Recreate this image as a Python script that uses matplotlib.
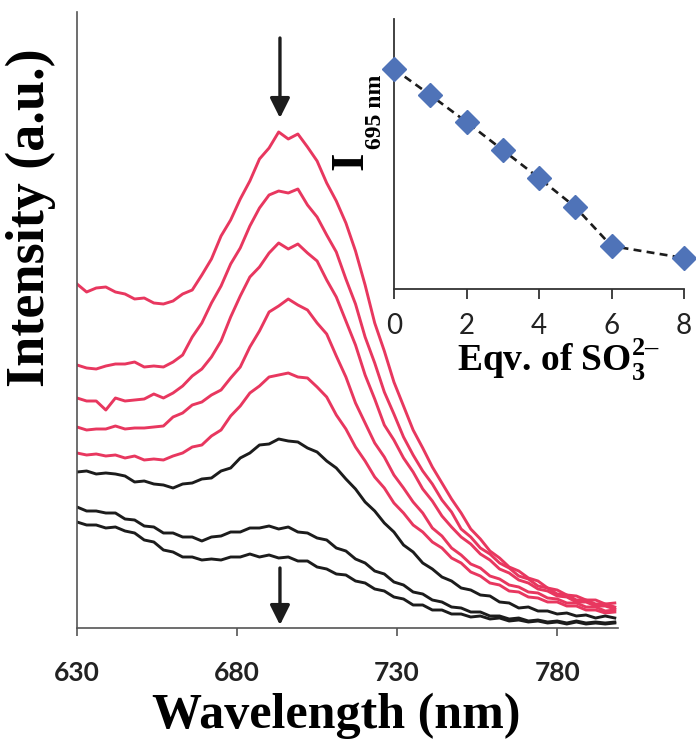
import numpy as np
import matplotlib
matplotlib.use("Agg")
import matplotlib.pyplot as plt

plt.rcParams["mathtext.fontset"] = "custom"
plt.rcParams["mathtext.rm"] = "Liberation Serif"
plt.rcParams["mathtext.bf"] = "Liberation Serif:bold"

# emission spectra (a.u.), every 3 nm from 630 to 798 nm
wl = np.arange(630, 799, 3)

red1 = [344, 336, 340, 341, 336, 334, 329, 330, 325, 324,
        327, 334, 338, 353, 369, 392, 408, 429, 447, 469,
        480, 496, 489, 494, 481, 467, 445, 427, 405, 377,
        343, 305, 277, 246, 222, 198, 180, 161, 145, 129,
        115, 99, 89, 77, 70, 61, 57, 50, 47, 40,
        38, 33, 32, 28, 28, 24, 25]
red2 = [263, 260, 259, 262, 264, 264, 266, 261, 262, 261,
        266, 273, 291, 305, 325, 342, 364, 380, 402, 420,
        433, 437, 435, 439, 423, 411, 393, 376, 349, 324,
        291, 265, 236, 214, 191, 173, 157, 144, 128, 116,
        99, 91, 80, 74, 65, 60, 52, 49, 42, 40,
        34, 33, 28, 28, 24, 24, 21]
red3 = [230, 227, 227, 218, 230, 227, 228, 229, 234, 230,
        235, 242, 252, 259, 271, 287, 311, 332, 351, 361,
        375, 385, 379, 384, 375, 367, 348, 331, 307, 283,
        253, 229, 203, 188, 170, 156, 139, 127, 112, 101,
        91, 84, 74, 68, 59, 55, 48, 45, 39, 37,
        32, 31, 26, 26, 22, 22, 19]
red4 = [201, 198, 199, 199, 202, 199, 200, 200, 201, 202,
        211, 215, 223, 226, 233, 238, 250, 261, 281, 297,
        316, 322, 329, 323, 318, 305, 294, 272, 251, 225,
        205, 185, 171, 153, 140, 126, 115, 100, 92, 80,
        73, 64, 60, 52, 49, 43, 41, 36, 35, 30,
        29, 25, 25, 21, 21, 17, 18]
red5 = [175, 173, 174, 172, 173, 170, 172, 168, 169, 168,
        172, 175, 181, 183, 192, 198, 212, 222, 235, 242,
        251, 253, 255, 251, 250, 241, 231, 213, 199, 181,
        167, 151, 140, 125, 115, 103, 96, 86, 80, 70,
        65, 56, 52, 45, 43, 37, 36, 31, 30, 26,
        26, 22, 22, 18, 18, 15, 16]
black1 = [156, 157, 154, 155, 154, 152, 146, 147, 144, 143,
          140, 144, 145, 149, 150, 157, 160, 170, 175, 183,
          184, 189, 187, 186, 180, 176, 167, 160, 149, 139,
          126, 117, 105, 96, 83, 76, 65, 59, 51, 47,
          40, 38, 33, 32, 26, 25, 20, 21, 17, 17,
          14, 15, 12, 13, 10, 12, 10]
black2 = [121, 117, 117, 115, 115, 109, 108, 102, 101, 95,
          95, 91, 91, 87, 91, 92, 96, 96, 100, 100,
          102, 99, 101, 96, 95, 90, 88, 80, 77, 69,
          65, 57, 54, 46, 43, 36, 34, 28, 26, 21,
          20, 16, 16, 12, 12, 9, 10, 7, 8, 6,
          7, 5, 7, 5, 6, 5, 6]
black3 = [106, 103, 103, 100, 101, 97, 95, 88, 86, 78,
          76, 71, 71, 68, 69, 68, 71, 71, 74, 71,
          73, 70, 71, 67, 67, 61, 59, 54, 53, 47,
          45, 39, 37, 31, 29, 23, 23, 18, 18, 14,
          14, 11, 12, 9, 10, 7, 8, 6, 7, 5,
          6, 4, 6, 4, 5, 4, 5]

reds = [red1, red2, red3, red4, red5]
blacks = [black1, black2, black3]

# inset: I(695 nm) vs equivalents of sulfite
eqv = [0, 1, 2, 3, 4, 5, 6, 8]
i695 = [220, 194, 167, 139, 111, 82, 43, 31]

RED = "#E8375F"
BLK = "#1c1c1c"

W, H = 696, 745
fig = plt.figure(figsize=(W / 100, H / 100), dpi=100)


def fx(px):
    return px / W


def fy(py):
    return 1 - py / H


ax = fig.add_axes([fx(77), fy(628), fx(618) - fx(77), fy(12) - fy(628)])
for s in reds:
    ax.plot(wl, s, color=RED, lw=2.1)
for s in blacks:
    ax.plot(wl, s, color=BLK, lw=2.1)

ax.set_xlim(630, 799)
ax.set_ylim(0, 616)
ax.set_xticks([630, 680, 730, 780])
ax.set_yticks([])
for sp in ("top", "right"):
    ax.spines[sp].set_visible(False)
for sp in ("left", "bottom"):
    ax.spines[sp].set_color("#555555")
    ax.spines[sp].set_linewidth(1.2)
ax.tick_params(axis="x", direction="out", length=6, width=1.2, color="#555555", pad=18)
for t in ax.get_xticklabels():
    t.set_fontfamily("Lato")
    t.set_fontweight("bold")
    t.set_fontsize(19)
    t.set_color("#222222")

# arrows marking the decrease
arrow = dict(arrowstyle="-|>,head_width=0.6,head_length=1.2", color=BLK, lw=2.4,
             shrinkA=0, shrinkB=0)
ax.annotate("", xy=(693.4, 510), xytext=(693.4, 590), arrowprops=arrow)
ax.annotate("", xy=(693.4, 3), xytext=(693.4, 60), arrowprops=arrow)

fig.text(fx(336), fy(716), "Wavelength (nm)", family="Liberation Serif",
         weight="bold", fontsize=36, ha="center", va="center")
fig.text(fx(31), fy(218), "Intensity (a.u.)", family="Liberation Serif",
         weight="bold", fontsize=39, ha="center", va="center", rotation=90)

# inset
ins = fig.add_axes([fx(394), fy(289), fx(684) - fx(394), fy(19) - fy(289)])
ins.plot(eqv, i695, "--", color=BLK, lw=1.9, dashes=(3, 2), zorder=2)
ins.plot(eqv, i695, "D", color="#4F73B8", ms=12, mec="#4F73B8", zorder=3, clip_on=False)
ins.set_xlim(0, 8)
ins.set_ylim(0, 270)
ins.set_xticks([0, 2, 4, 6, 8])
ins.set_yticks([])
ins.patch.set_alpha(0)
for sp in ("top", "right"):
    ins.spines[sp].set_visible(False)
for sp in ("left", "bottom"):
    ins.spines[sp].set_color("#333333")
    ins.spines[sp].set_linewidth(1.3)
ins.tick_params(axis="x", direction="out", length=7, width=1.3, color="#333333", pad=10)
for t in ins.get_xticklabels():
    t.set_fontfamily("Lato")
    t.set_fontsize(20)
    t.set_color("#222222")

fig.text(fx(351), fy(161), "I", family="Liberation Serif", weight="bold",
         fontsize=34, ha="center", va="center", rotation=90)
fig.text(fx(375), fy(112), "695 nm", family="Liberation Serif", weight="bold",
         fontsize=17, ha="center", va="center", rotation=90)
fig.text(fx(558), fy(360), r"Eqv. of SO$_\mathbf{3}^{\mathbf{2–}}$", family="Liberation Serif",
         weight="bold", fontsize=27, ha="center", va="center")

fig.savefig("out.png", dpi=100)
